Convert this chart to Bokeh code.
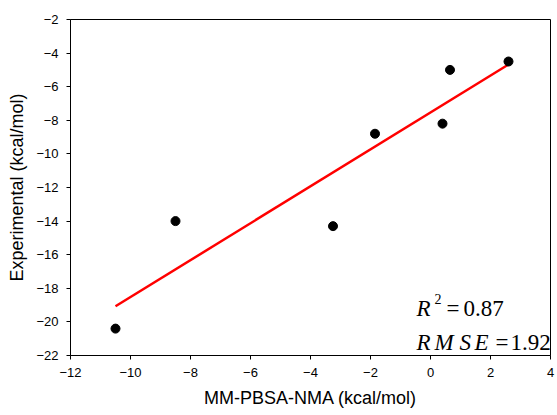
from bokeh.plotting import figure
from bokeh.models import Range1d, FixedTicker, Label
from bokeh.embed import file_html
from bokeh.resources import INLINE

# Data
calc_x = [-10.5, -8.5, -3.25, -1.85, 0.4, 0.65, 2.6]
exp_y = [-20.4, -14.0, -14.3, -8.8, -8.2, -5.0, -4.5]
fit_x = [-10.5, 2.6]
fit_y = [-19.07, -4.68]
x_ticks = [-12, -10, -8, -6, -4, -2, 0, 2, 4]
y_ticks = [-22, -20, -18, -16, -14, -12, -10, -8, -6, -4, -2]

p = figure(width=556, height=414, output_backend="svg", toolbar_location=None,
           x_range=Range1d(-12, 4), y_range=Range1d(-22, -2),
           min_border_left=70, min_border_right=6, min_border_top=19, min_border_bottom=59)

p.background_fill_color = "white"
p.border_fill_color = "white"
p.outline_line_color = "black"
p.outline_line_width = 1
p.grid.visible = False

for ax in (p.xaxis[0], p.yaxis[0]):
    ax.axis_line_color = "black"
    ax.major_tick_line_color = "black"
    ax.minor_tick_line_color = None
    ax.major_tick_in = 0
    ax.major_tick_out = 4
    ax.major_label_text_font = "Liberation Sans"
    ax.major_label_text_font_size = "13px"
    ax.major_label_text_color = "black"
    ax.axis_label_text_font = "Liberation Sans"
    ax.axis_label_text_font_size = "18px"
    ax.axis_label_text_font_style = "normal"
    ax.axis_label_text_color = "black"

p.xaxis.ticker = FixedTicker(ticks=x_ticks)
p.yaxis.ticker = FixedTicker(ticks=y_ticks)
p.xaxis.axis_label = "MM-PBSA-NMA (kcal/mol)"
p.yaxis.axis_label = "Experimental (kcal/mol)"
p.xaxis.major_label_standoff = 8
p.yaxis.major_label_standoff = 8
p.xaxis.axis_label_standoff = 8
p.yaxis.axis_label_standoff = 6

p.line(fit_x, fit_y, line_color="#ff0000", line_width=2.5)
p.scatter(calc_x, exp_y, size=9, fill_color="black", line_color="black")

serif = "Liberation Serif"

def lab(x, y, t, size="23px", style="normal"):
    p.add_layout(Label(x=x, y=y, text=t, text_font=serif, text_font_size=size,
                       text_font_style=style, text_color="black",
                       text_baseline="alphabetic", text_align="left"))

# R^2 = 0.87
lab(-0.47, -19.20, "R", style="italic")
lab(0.13, -18.61, "2", size="14px")
lab(0.53, -19.20, "=")
lab(1.10, -19.20, "0.87")
# RMSE = 1.92
lab(-0.47, -21.21, "R", style="italic")
lab(0.13, -21.21, "M", style="italic")
lab(0.97, -21.21, "S", style="italic")
lab(1.47, -21.21, "E", style="italic")
lab(2.17, -21.21, "=")
lab(2.67, -21.21, "1.92")

open("out.html", "w").write(file_html(p, INLINE))
